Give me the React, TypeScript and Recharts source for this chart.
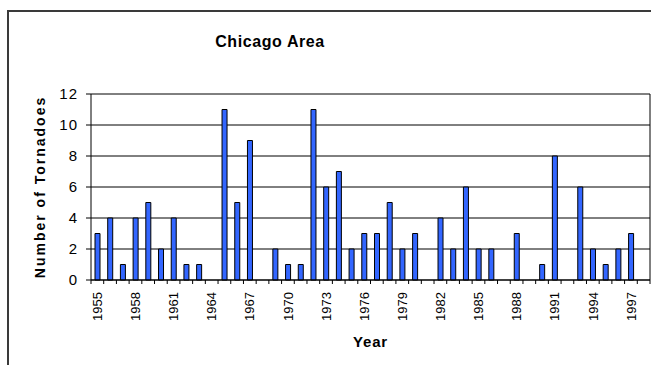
import React from 'react';
import {
  BarChart,
  Bar,
  XAxis,
  YAxis,
  CartesianGrid,
  Label,
} from 'recharts';

const years = [
  1955, 1956, 1957, 1958, 1959, 1960, 1961, 1962, 1963, 1964,
  1965, 1966, 1967, 1968, 1969, 1970, 1971, 1972, 1973, 1974,
  1975, 1976, 1977, 1978, 1979, 1980, 1981, 1982, 1983, 1984,
  1985, 1986, 1987, 1988, 1989, 1990, 1991, 1992, 1993, 1994,
  1995, 1996, 1997, 1998,
];

const tornadoes = [
  3, 4, 1, 4, 5, 2, 4, 1, 1, 0,
  11, 5, 9, 0, 2, 1, 1, 11, 6, 7,
  2, 3, 3, 5, 2, 3, 0, 4, 2, 6,
  2, 2, 0, 3, 0, 1, 8, 0, 6, 2,
  1, 2, 3, 0,
];

const yTicks = [0, 2, 4, 6, 8, 10, 12];

const data = years.map((year, i) => ({ year, count: tornadoes[i] }));

const FONT = 'Arial, "Liberation Sans", sans-serif';

// tick marks sit between categories, labels every third year
const YearTick = (props: any) => {
  const { x, y, payload } = props;
  const half = payload.offset ?? 6.35;
  const idx = years.indexOf(payload.value);
  const last = idx === years.length - 1;
  return (
    <g>
      <line x1={x - half} x2={x - half} y1={y} y2={y + 4} stroke="#000" />
      {last && <line x1={x + half} x2={x + half} y1={y} y2={y + 4} stroke="#000" />}
      {idx % 3 === 0 && (
        <text
          x={x}
          y={y + 12}
          dy="0.36em"
          textAnchor="end"
          transform={`rotate(-90, ${x}, ${y + 12})`}
          fontSize={13}
          fontFamily={FONT}
          fill="#000"
        >
          {payload.value}
        </text>
      )}
    </g>
  );
};

export default function App() {
  return (
    <div style={{ position: 'absolute', left: 0, top: 0, width: 651, height: 365, overflow: 'hidden', background: '#fff' }}>
      <div
        style={{
          position: 'absolute',
          left: 7,
          top: 10,
          width: 700,
          height: 400,
          border: '2px solid #3a3a3a',
        }}
      />
      <div
        style={{
          position: 'absolute',
          left: 170,
          width: 200,
          top: 32,
          textAlign: 'center',
          fontFamily: FONT,
          fontWeight: 'bold',
          fontSize: 16,
          letterSpacing: 0.6,
          lineHeight: '20px',
        }}
      >
        Chicago Area
      </div>
      <div style={{ position: 'absolute', left: 0, top: 0 }}>
        <BarChart
          width={651}
          height={365}
          data={data}
          margin={{ top: 94, right: 0, bottom: 15, left: 31 }}
          barCategoryGap={0}
        >
          <CartesianGrid vertical={false} stroke="#000" strokeOpacity={1} />
          <XAxis
            dataKey="year"
            interval={0}
            height={70}
            tickSize={0}
            tickMargin={0}
            tickLine={false}
            axisLine={{ stroke: '#000' }}
            tick={<YearTick />}
          >
            <Label
              value="Year"
              position="insideBottom"
              offset={3}
              fill="#000"
              fontSize={15}
              fontWeight="bold"
              fontFamily={FONT}
              letterSpacing={0.8}
            />
          </XAxis>
          <YAxis
            width={60}
            domain={[0, 12]}
            ticks={yTicks}
            tickSize={5}
            tickMargin={8}
            tickLine={{ stroke: '#000' }}
            axisLine={{ stroke: '#000' }}
            tick={{ fill: '#000', fontSize: 15, fontFamily: FONT, letterSpacing: 1 }}
          >
            <Label
              value="Number of Tornadoes"
              angle={-90}
              position="insideLeft"
              offset={9}
              style={{ textAnchor: 'middle' }}
              fill="#000"
              fontSize={14}
              fontWeight="bold"
              fontFamily={FONT}
              letterSpacing={2}
            />
          </YAxis>
          <YAxis
            yAxisId="frame"
            orientation="right"
            width={1}
            tick={false}
            tickLine={false}
            axisLine={{ stroke: '#000' }}
          />
          <Bar
            dataKey="count"
            barSize={5}
            fill="#3366ff"
            stroke="#000"
            strokeWidth={1}
            isAnimationActive={false}
          />
        </BarChart>
      </div>
    </div>
  );
}
